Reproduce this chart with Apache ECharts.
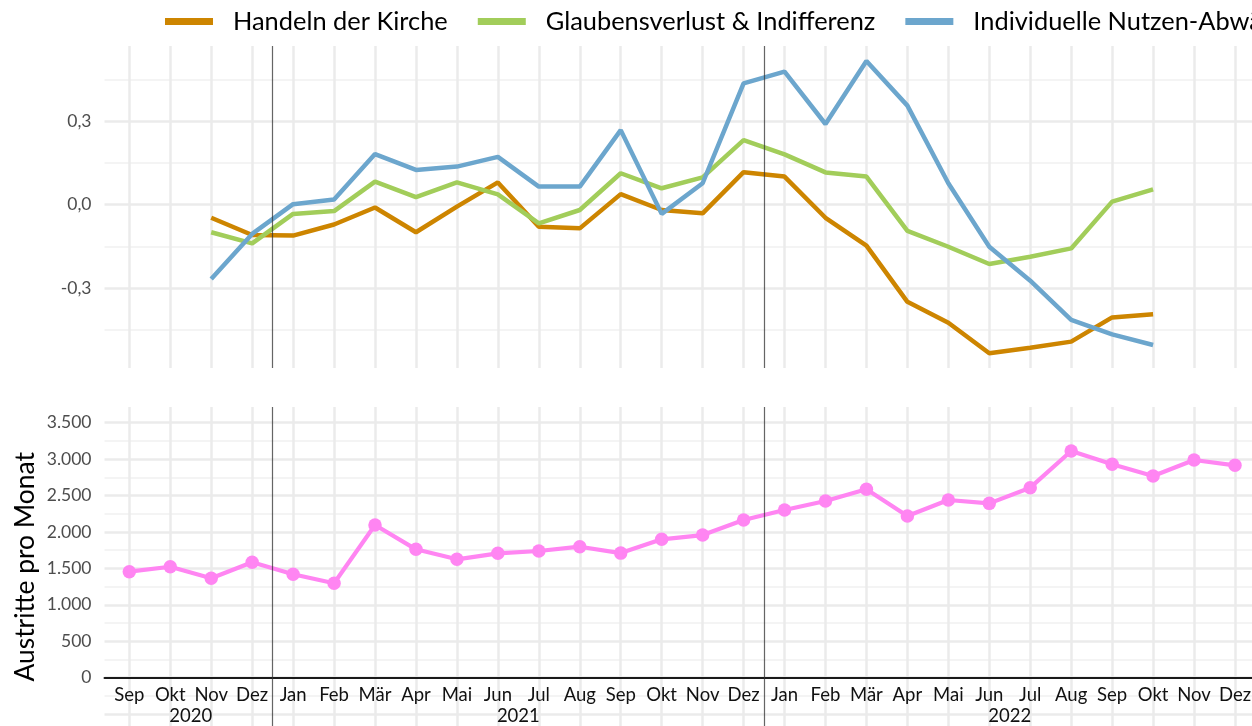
<!DOCTYPE html>
<html>
<head>
<meta charset="utf-8">
<script src="https://cdn.jsdelivr.net/npm/echarts@6/dist/echarts.min.js"></script>
<style>
  html, body { margin: 0; padding: 0; background: #ffffff; }
  #chart { width: 1252px; height: 726px; }
</style>
</head>
<body>
<div id="chart"></div>
<script>
// Months from Sep 2020 to Dez 2022
const months = ['Sep','Okt','Nov','Dez',
  'Jan','Feb','Mär','Apr','Mai','Jun','Jul','Aug','Sep','Okt','Nov','Dez',
  'Jan','Feb','Mär','Apr','Mai','Jun','Jul','Aug','Sep','Okt','Nov','Dez'];
const monthYears = ['2020','2020','2020','2020',
  '2021','2021','2021','2021','2021','2021','2021','2021','2021','2021','2021','2021',
  '2022','2022','2022','2022','2022','2022','2022','2022','2022','2022','2022','2022'];

// Topic scores (upper panel)
const handelnDerKirche = [null, null, -0.047, -0.109, -0.111, -0.071, -0.010, -0.099, -0.007, 0.080, -0.079, -0.085,
  0.038, -0.019, -0.031, 0.117, 0.101, -0.047, -0.147, -0.349, -0.424, -0.534, -0.514, -0.492, -0.405, -0.394, null, null];
const glaubensverlust = [null, null, -0.099, -0.139, -0.033, -0.023, 0.083, 0.027, 0.080, 0.037, -0.067, -0.019,
  0.113, 0.059, 0.098, 0.232, 0.181, 0.116, 0.101, -0.094, -0.151, -0.213, -0.187, -0.157, 0.011, 0.055, null, null];
const nutzenAbwaegung = [null, null, -0.267, -0.105, 0.002, 0.019, 0.182, 0.125, 0.137, 0.172, 0.065, 0.065,
  0.268, -0.033, 0.077, 0.436, 0.478, 0.290, 0.516, 0.356, 0.077, -0.151, -0.273, -0.414, -0.466, -0.504, null, null];

// Church exits per month (lower panel)
const austritte = [1455, 1523, 1364, 1584, 1419, 1296, 2096, 1762, 1625, 1707, 1739, 1798,
  1710, 1899, 1958, 2164, 2302, 2425, 2586, 2219, 2439, 2393, 2608, 3111, 2929, 2768, 2988, 2915];

const seriesNames = ['Handeln der Kirche', 'Glaubensverlust & Indifferenz', 'Individuelle Nutzen-Abwägung'];
const seriesColors = ['#CD8500', '#A2CD5A', '#6CA6CD'];
const exitColor = '#FF85F2';

// ---- layout ----
const FONT = 'Lato, "Open Sans", sans-serif';
const plotLeft = 129.3, plotRight = 1235;          // x of first / last month
const bgLeft = 104.5;
const W = 1252;

// value <-> pixel mapping per panel
const topPanel = { zeroY: 204.7, pxPerUnit: 278.3, top: 46, bottom: 368 };
const botPanel = { zeroY: 677.7, pxPerUnit: 0.072857, top: 407, bottom: 750.6 };
const valAt = (p, y) => (p.zeroY - y) / p.pxPerUnit;
const pxAt = (p, v) => p.zeroY - v * p.pxPerUnit;
// month / year axes of the lower panel sit on its zero line
const zeroOffset = -(botPanel.bottom - botPanel.zeroY);

// ---- year axis (half-month steps): labels centred on each year, separators between years ----
const halfKeys = [];
for (let i = 0; i < months.length * 2 - 1; i++) halfKeys.push('h' + i);
const yearLabelAt = {};
const yearBreaks = new Set();
(function () {
  let start = 0;
  for (let i = 1; i <= monthYears.length; i++) {
    if (i === monthYears.length || monthYears[i] !== monthYears[start]) {
      yearLabelAt[start + (i - 1)] = monthYears[start];
      if (i < monthYears.length) yearBreaks.add(2 * i - 1);
      start = i;
    }
  }
})();

const deNumber = v => {
  const s = Math.round(v).toString();
  return s.replace(/\B(?=(\d{3})+(?!\d))/g, '.');
};

const gridMajor = { color: '#EBEBEB', width: 2.5 };
const gridMinor = { color: '#F1F1F1', width: 1.5 };
const separatorLine = { color: 'rgba(50,50,50,0.75)', width: 1.2 };

const topBg = { min: -0.6, max: 0.6 };
const botBg = { min: -1000, max: 3500 };

const gridBase = { outerBoundsMode: 'none', containLabel: false };

const option = {
  animation: false,
  backgroundColor: '#ffffff',
  textStyle: { fontFamily: FONT },
  legend: {
    data: seriesNames,
    left: 160, top: 4, width: 3000,
    icon: 'rect', itemWidth: 48, itemHeight: 7, itemGap: 30,
    textStyle: { fontFamily: FONT, fontSize: 25.4, color: '#000000', padding: [0, 0, 0, 15] }
  },
  grid: [
    // upper panel: background (horizontal grid, labels) and plot area
    Object.assign({ left: bgLeft, width: W - bgLeft + 20, top: pxAt(topPanel, topBg.max),
      height: pxAt(topPanel, topBg.min) - pxAt(topPanel, topBg.max) }, gridBase),
    Object.assign({ left: plotLeft, width: plotRight - plotLeft, top: topPanel.top,
      height: topPanel.bottom - topPanel.top }, gridBase),
    // lower panel
    Object.assign({ left: bgLeft, width: W - bgLeft + 20, top: pxAt(botPanel, botBg.max),
      height: pxAt(botPanel, botBg.min) - pxAt(botPanel, botBg.max) }, gridBase),
    Object.assign({ left: plotLeft, width: plotRight - plotLeft, top: botPanel.top,
      height: botPanel.bottom - botPanel.top }, gridBase)
  ],
  xAxis: [
    { gridIndex: 0, type: 'value', show: false, min: 0, max: 1 },
    { gridIndex: 1, type: 'category', position: 'bottom', data: months, boundaryGap: false,
      axisLine: { show: false }, axisTick: { show: false }, axisLabel: { show: false },
      splitLine: { show: true, interval: 0, lineStyle: gridMajor } },
    { gridIndex: 1, type: 'category', position: 'bottom', data: halfKeys, boundaryGap: false, z: 5,
      axisLine: { show: false }, axisTick: { show: false }, axisLabel: { show: false },
      splitLine: { show: true, interval: i => yearBreaks.has(i), lineStyle: separatorLine } },
    { gridIndex: 2, type: 'value', position: 'bottom', min: 0, max: 1,
      axisLine: { show: true, onZero: true, lineStyle: { color: '#1A1A1A', width: 2 } },
      axisTick: { show: false }, axisLabel: { show: false }, splitLine: { show: false } },
    { gridIndex: 3, type: 'category', position: 'bottom', offset: zeroOffset, data: months, boundaryGap: false,
      axisLine: { show: true, onZero: false, lineStyle: { color: '#1A1A1A', width: 2 } },
      axisTick: { show: false },
      axisLabel: { interval: 0, margin: 8, fontFamily: FONT, fontSize: 18.5, color: '#111111' },
      splitLine: { show: true, interval: 0, lineStyle: gridMajor } },
    { gridIndex: 3, type: 'category', position: 'bottom', offset: zeroOffset, data: halfKeys, boundaryGap: false, z: 5,
      axisLine: { show: false, onZero: false }, axisTick: { show: false },
      axisLabel: { interval: 0, margin: 29, fontFamily: FONT, fontSize: 18.5, color: '#111111',
        formatter: (v, i) => yearLabelAt[i] || '' },
      splitLine: { show: true, interval: i => yearBreaks.has(i), lineStyle: separatorLine } }
  ],
  yAxis: [
    { gridIndex: 0, type: 'value', min: topBg.min, max: topBg.max, interval: 0.3,
      axisLine: { show: false }, axisTick: { show: false },
      axisLabel: { margin: 13, fontFamily: FONT, fontSize: 17.5, color: '#4D4D4D',
        formatter: v => (Math.abs(v) > 0.5 ? '' : v.toFixed(1).replace('.', ',')) },
      splitLine: { show: true, lineStyle: { color: ['rgba(0,0,0,0)', '#EBEBEB', '#EBEBEB', '#EBEBEB', 'rgba(0,0,0,0)'], width: 2.5 } },
      minorTick: { show: false, splitNumber: 2 },
      minorSplitLine: { show: true, lineStyle: gridMinor } },
    { gridIndex: 1, type: 'value', show: false,
      min: valAt(topPanel, topPanel.bottom), max: valAt(topPanel, topPanel.top) },
    { gridIndex: 2, type: 'value', min: botBg.min, max: botBg.max, interval: 500,
      axisLine: { show: false }, axisTick: { show: false },
      axisLabel: { margin: 13, fontFamily: FONT, fontSize: 17.5, color: '#4D4D4D',
        formatter: v => (v < 0 ? '' : deNumber(v)) },
      splitLine: { show: true, lineStyle: gridMajor },
      minorTick: { show: false, splitNumber: 2 },
      minorSplitLine: { show: true, lineStyle: gridMinor } },
    { gridIndex: 3, type: 'value',
      min: valAt(botPanel, botPanel.bottom), max: valAt(botPanel, botPanel.top),
      axisLine: { show: false }, axisTick: { show: false }, axisLabel: { show: false }, splitLine: { show: false },
      name: 'Austritte pro Monat', nameLocation: 'middle', nameGap: 91,
      nameTextStyle: { fontFamily: FONT, fontSize: 26.4, color: '#000000', padding: [0, 0, 0, 24] } }
  ],
  series: [
    { name: seriesNames[0], type: 'line', xAxisIndex: 1, yAxisIndex: 1, data: handelnDerKirche,
      symbol: 'none', color: seriesColors[0], lineStyle: { width: 4.5, color: seriesColors[0] } },
    { name: seriesNames[1], type: 'line', xAxisIndex: 1, yAxisIndex: 1, data: glaubensverlust,
      symbol: 'none', color: seriesColors[1], lineStyle: { width: 4.5, color: seriesColors[1] } },
    { name: seriesNames[2], type: 'line', xAxisIndex: 1, yAxisIndex: 1, data: nutzenAbwaegung,
      symbol: 'none', color: seriesColors[2], lineStyle: { width: 4.5, color: seriesColors[2] } },
    { name: 'Austritte', type: 'line', xAxisIndex: 4, yAxisIndex: 3, data: austritte,
      symbol: 'circle', symbolSize: 13.5, color: exitColor,
      itemStyle: { color: exitColor }, lineStyle: { width: 4.2, color: exitColor } }
  ]
};

const chart = echarts.init(document.getElementById('chart'), null, { renderer: 'canvas' });
chart.setOption(option);
</script>
</body>
</html>
